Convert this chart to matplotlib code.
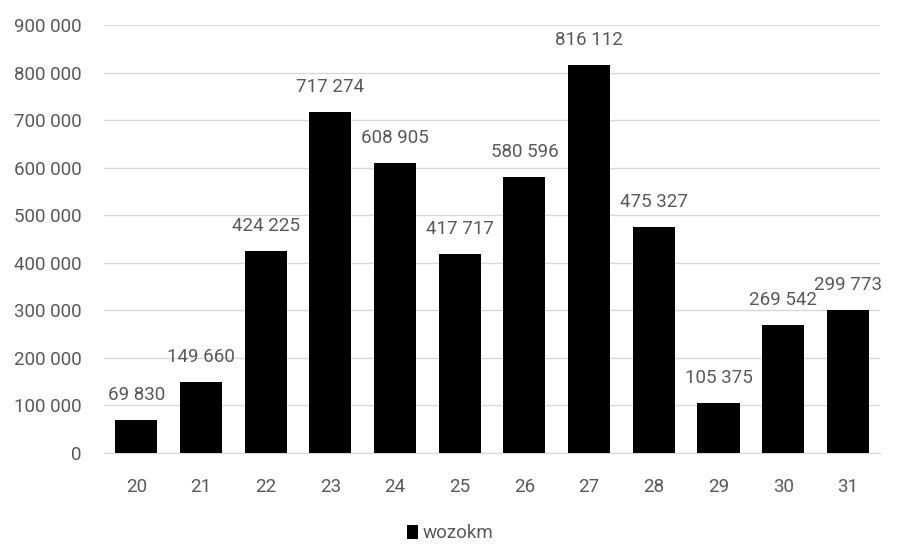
import matplotlib.pyplot as plt
import matplotlib.ticker as mticker
from matplotlib.patches import Patch

categories = ["20", "21", "22", "23", "24", "25", "26", "27", "28", "29", "30", "31"]
wozokm = [69830, 149660, 424225, 717274, 608905, 417717, 580596, 816112, 475327, 105375, 269542, 299773]
series_name = "wozokm"

text_color = "#595959"
plt.rcParams['font.family'] = ['Roboto', 'DejaVu Sans']


def space_fmt(v, pos=None):
    return f"{int(v):,}".replace(",", " ")


fig = plt.figure(figsize=(9, 5.45), dpi=100)
ax = fig.add_axes([0.1156, 0.1688, 0.8624, 0.7852])

x = range(len(categories))
ax.bar(x, wozokm, width=0.65, color="black", zorder=3)

for xi, v in zip(x, wozokm):
    ax.annotate(space_fmt(v), (xi, v), xytext=(0, 18), textcoords="offset points",
                ha="center", va="center", fontsize=13.5, color=text_color)

ax.set_xlim(-0.5, len(categories) - 0.5)
ax.set_ylim(0, 900000)
ax.yaxis.set_major_locator(mticker.MultipleLocator(100000))
ax.yaxis.set_major_formatter(mticker.FuncFormatter(space_fmt))
ax.set_xticks(list(x))
ax.set_xticklabels(categories)
ax.grid(axis="y", color="#d9d9d9", linewidth=1, zorder=0)
for s in ["top", "right", "left"]:
    ax.spines[s].set_visible(False)
ax.spines["bottom"].set_color("#d9d9d9")
ax.tick_params(axis="both", length=0, labelsize=13.5, colors=text_color)
ax.tick_params(axis="x", pad=18)
ax.tick_params(axis="y", pad=16)

fig.legend(handles=[Patch(facecolor="black", label=series_name)], loc="lower center",
           bbox_to_anchor=(0.5, -0.026), frameon=False, fontsize=13.5, labelcolor=text_color,
           handlelength=0.6, handleheight=0.8, handletextpad=0.2)

fig.savefig("out.png", dpi=100)
